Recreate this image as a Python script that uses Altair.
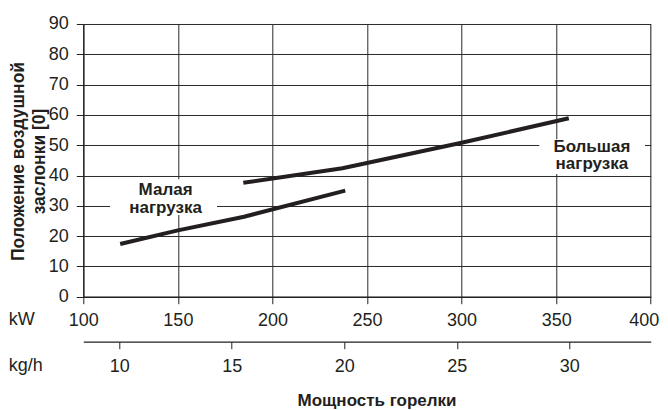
import altair as alt
import pandas as pd

# ---- data ----
small_kw = [119.5, 150, 185, 238.5]
small_val = [17.4, 21.9, 26.4, 35.0]
big_kw = [184.6, 237, 300, 356.7]
big_val = [37.6, 42.4, 50.8, 58.9]

kw_ticks = [100, 150, 200, 250, 300, 350, 400]
kg_ticks = [10, 15, 20, 25, 30]
y_ticks = [0, 10, 20, 30, 40, 50, 60, 70, 80, 90]
kg_per_kw = 11.9  # kW per kg/h

label_text = ["Малая\nнагрузка", "Большая\nнагрузка"]
label_kw = [143.5, 368.9]
label_val = [35.2, 49.5]
box_kw1 = [114.1, 341.1]
box_kw2 = [170.7, 397.0]
box_val1 = [27.0, 40.5]
box_val2 = [38.8, 52.0]

FONT = "Liberation Sans"
INK = "#231f20"

lines_df = pd.DataFrame({
    "kw": small_kw + big_kw,
    "val": small_val + big_val,
    "series": ["small"] * len(small_kw) + ["big"] * len(big_kw),
})
labels_df = pd.DataFrame({"kw": label_kw, "val": label_val, "text": label_text})
boxes_df = pd.DataFrame({"x1": box_kw1, "x2": box_kw2, "y1": box_val1, "y2": box_val2})
kg_df = pd.DataFrame({"kg": kg_ticks})

xscale = alt.Scale(domain=[100, 400], nice=False, zero=False)
yscale = alt.Scale(domain=[0, 90], nice=False, zero=False)

x_axis = alt.Axis(
    values=kw_ticks, grid=True, gridColor="#2a2a2a", gridWidth=1, gridOpacity=1,
    domainColor=INK, domainWidth=1.2, tickColor=INK, tickSize=7,
    labelFont=FONT, labelFontSize=18, labelColor=INK, labelPadding=8, labelFlush=False,
    labelOverlap=False,
    labelOffset=alt.condition("datum.value == 400", alt.value(-7), alt.value(0)),
    title="kW", titleFont=FONT, titleFontSize=18, titleFontWeight="normal", titleColor=INK,
    titleAngle=0, titleAlign="left", titleBaseline="middle", titleX=-75, titleY=23,
)
y_axis = alt.Axis(
    values=y_ticks, grid=True, gridColor="#2a2a2a", gridWidth=1, gridOpacity=1,
    domainColor=INK, domainWidth=1.2, tickColor=INK, tickSize=7,
    labelFont=FONT, labelFontSize=18, labelColor=INK, labelPadding=8, labelOverlap=False,
    title=["Положение воздушной", "заслонки [0]"], titleFont=FONT, titleFontSize=17.5,
    titleFontWeight="bold", titleColor=INK, titleAngle=-90, titleLineHeight=21,
    titleAlign="center", titleBaseline="bottom", titleX=-56, titleY=137,
)

X = alt.X("kw:Q", scale=xscale, axis=x_axis)
Y = alt.Y("val:Q", scale=yscale, axis=y_axis)

base_lines = alt.Chart(lines_df).mark_line(
    color=INK, strokeWidth=4, strokeCap="butt"
).encode(x=X, y=Y, detail="series:N")

boxes = alt.Chart(boxes_df).mark_rect(color="white").encode(
    x=alt.X("x1:Q", scale=xscale, axis=x_axis), x2="x2:Q",
    y=alt.Y("y1:Q", scale=yscale, axis=y_axis), y2="y2:Q",
)

texts = alt.Chart(labels_df).mark_text(
    font=FONT, fontSize=17, fontWeight="bold", color=INK, lineHeight=17.5,
    align="center", baseline="middle", lineBreak="\n",
).encode(x=X, y=Y, text="text:N")

kg_axis = alt.Axis(
    values=kg_ticks, orient="bottom", offset=45, grid=False,
    domainColor=INK, domainWidth=1.2, tickColor=INK, tickSize=7,
    labelFont=FONT, labelFontSize=18, labelColor=INK, labelPadding=9, labelOverlap=False,
    title="kg/h", titleFont=FONT, titleFontSize=18, titleFontWeight="normal", titleColor=INK,
    titleAngle=0, titleAlign="left", titleBaseline="middle", titleX=-75, titleY=24,
)
kg_layer = alt.Chart(kg_df).mark_point(opacity=0).encode(
    x=alt.X("kg:Q", scale=alt.Scale(domain=[100 / kg_per_kw, 400 / kg_per_kw], nice=False, zero=False), axis=kg_axis),
    y=alt.value(0),
)

main = alt.layer(boxes, base_lines, texts)
chart = alt.layer(main, kg_layer).resolve_scale(x="independent").properties(
    width=567.4, height=272.7,
    padding={"left": 75.3, "top": 16, "right": 9.3, "bottom": 113},
    autosize=alt.AutoSizeParams(type="none"),
    title=alt.TitleParams(
        text="Мощность горелки", orient="bottom", anchor="middle", font=FONT,
        fontSize=17, fontWeight="bold", color=INK, offset=17, dx=10,
    ),
).configure_view(stroke=None).configure(background="white")

chart.save("out.html", embed_options={"renderer": "svg", "actions": False})
